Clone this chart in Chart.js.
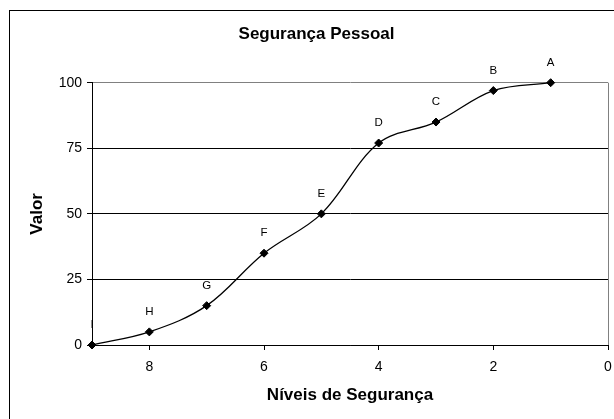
<!DOCTYPE html>
<html>
<head>
<meta charset="utf-8">
<script src="https://cdn.jsdelivr.net/npm/chart.js@4"></script>
<style>
  html, body { margin: 0; padding: 0; background: #fff; overflow: hidden; }
  canvas { display: block; }
</style>
</head>
<body>
<canvas id="chart" width="614" height="419"></canvas>
<script>
const levels = [9, 8, 7, 6, 5, 4, 3, 2, 1];
const values = [0, 5, 15, 35, 50, 77, 85, 97, 100];
const pointNames = ['I', 'H', 'G', 'F', 'E', 'D', 'C', 'B', 'A'];
const xTicks = [8, 6, 4, 2, 0];
const yTicks = [0, 25, 50, 75, 100];

Chart.defaults.font.family = "'Liberation Sans', Arial, sans-serif";
Chart.defaults.color = '#000';

// outer frame, right border of plot, letters above points
const framePlugin = {
    id: 'frame',
    beforeDraw(chart) {
        const ctx = chart.ctx;
        ctx.save();
        ctx.strokeStyle = '#000';
        ctx.lineWidth = 1;
        ctx.strokeRect(9.5, 10.5, 800, 600);
        ctx.restore();
    },
    beforeDatasetsDraw(chart) {
        const { ctx, chartArea } = chart;
        ctx.save();
        ctx.strokeStyle = '#808080';
        ctx.lineWidth = 1;
        ctx.beginPath();
        ctx.moveTo(Math.round(chartArea.right) + 0.5, chartArea.top);
        ctx.lineTo(Math.round(chartArea.right) + 0.5, chartArea.bottom);
        ctx.stroke();
        ctx.restore();
    },
    afterDatasetsDraw(chart) {
        const ctx = chart.ctx;
        const meta = chart.getDatasetMeta(0);
        ctx.save();
        ctx.fillStyle = '#000';
        ctx.font = "11.5px 'Liberation Sans', Arial, sans-serif";
        ctx.textAlign = 'center';
        ctx.textBaseline = 'middle';
        meta.data.forEach((pt, i) => {
            ctx.fillText(pointNames[i], pt.x, pt.y - 20);
        });
        ctx.restore();
    }
};

new Chart(document.getElementById('chart'), {
    type: 'line',
    data: {
        datasets: [{
            data: levels.map((x, i) => ({ x: x, y: values[i] })),
            borderColor: '#000',
            borderWidth: 1.3,
            backgroundColor: '#000',
            pointStyle: 'rectRot',
            pointRadius: 4,
            pointBorderWidth: 1,
            pointBorderColor: '#000',
            pointBackgroundColor: '#000',
            tension: 0.35,
            fill: false,
            clip: false
        }]
    },
    options: {
        responsive: false,
        animation: false,
        layout: { padding: { left: 25, right: 6, top: 12, bottom: 0 } },
        plugins: {
            legend: { display: false },
            tooltip: { enabled: false },
            title: {
                display: true,
                text: 'Segurança Pessoal',
                font: { size: 17, weight: 'bold' },
                padding: { top: 12.3, bottom: 38 }
            }
        },
        scales: {
            x: {
                type: 'linear',
                reverse: true,
                min: 0,
                max: 9,
                afterBuildTicks: (scale) => { scale.ticks = xTicks.map(v => ({ value: v })); },
                afterFit: (scale) => {
                    scale.height = 74;
                    scale.paddingLeft = 0;
                    scale.paddingRight = 0;
                },
                grid: { drawOnChartArea: false, drawTicks: true, tickLength: 5, color: '#000', tickColor: '#000' },
                border: { display: true, color: '#000', width: 1 },
                ticks: { font: { size: 14 }, padding: 9, maxRotation: 0 },
                title: {
                    display: true,
                    text: 'Níveis de Segurança',
                    font: { size: 17, weight: 'bold' },
                    padding: { top: 0, bottom: 13.1 }
                }
            },
            y: {
                min: 0,
                max: 100,
                afterBuildTicks: (scale) => { scale.ticks = yTicks.map(v => ({ value: v })); },
                afterFit: (scale) => { scale.width = 67; },
                grid: {
                    color: (c) => (c.tick && c.tick.value === 100 ? '#808080' : '#000'),
                    tickColor: '#000',
                    tickLength: 5
                },
                border: { display: true, color: '#000', width: 1 },
                ticks: { font: { size: 14 }, padding: 5 },
                title: {
                    display: true,
                    text: 'Valor',
                    font: { size: 17, weight: 'bold' },
                    padding: { top: 1.8, bottom: 0 }
                }
            }
        }
    },
    plugins: [framePlugin]
});
</script>
</body>
</html>
